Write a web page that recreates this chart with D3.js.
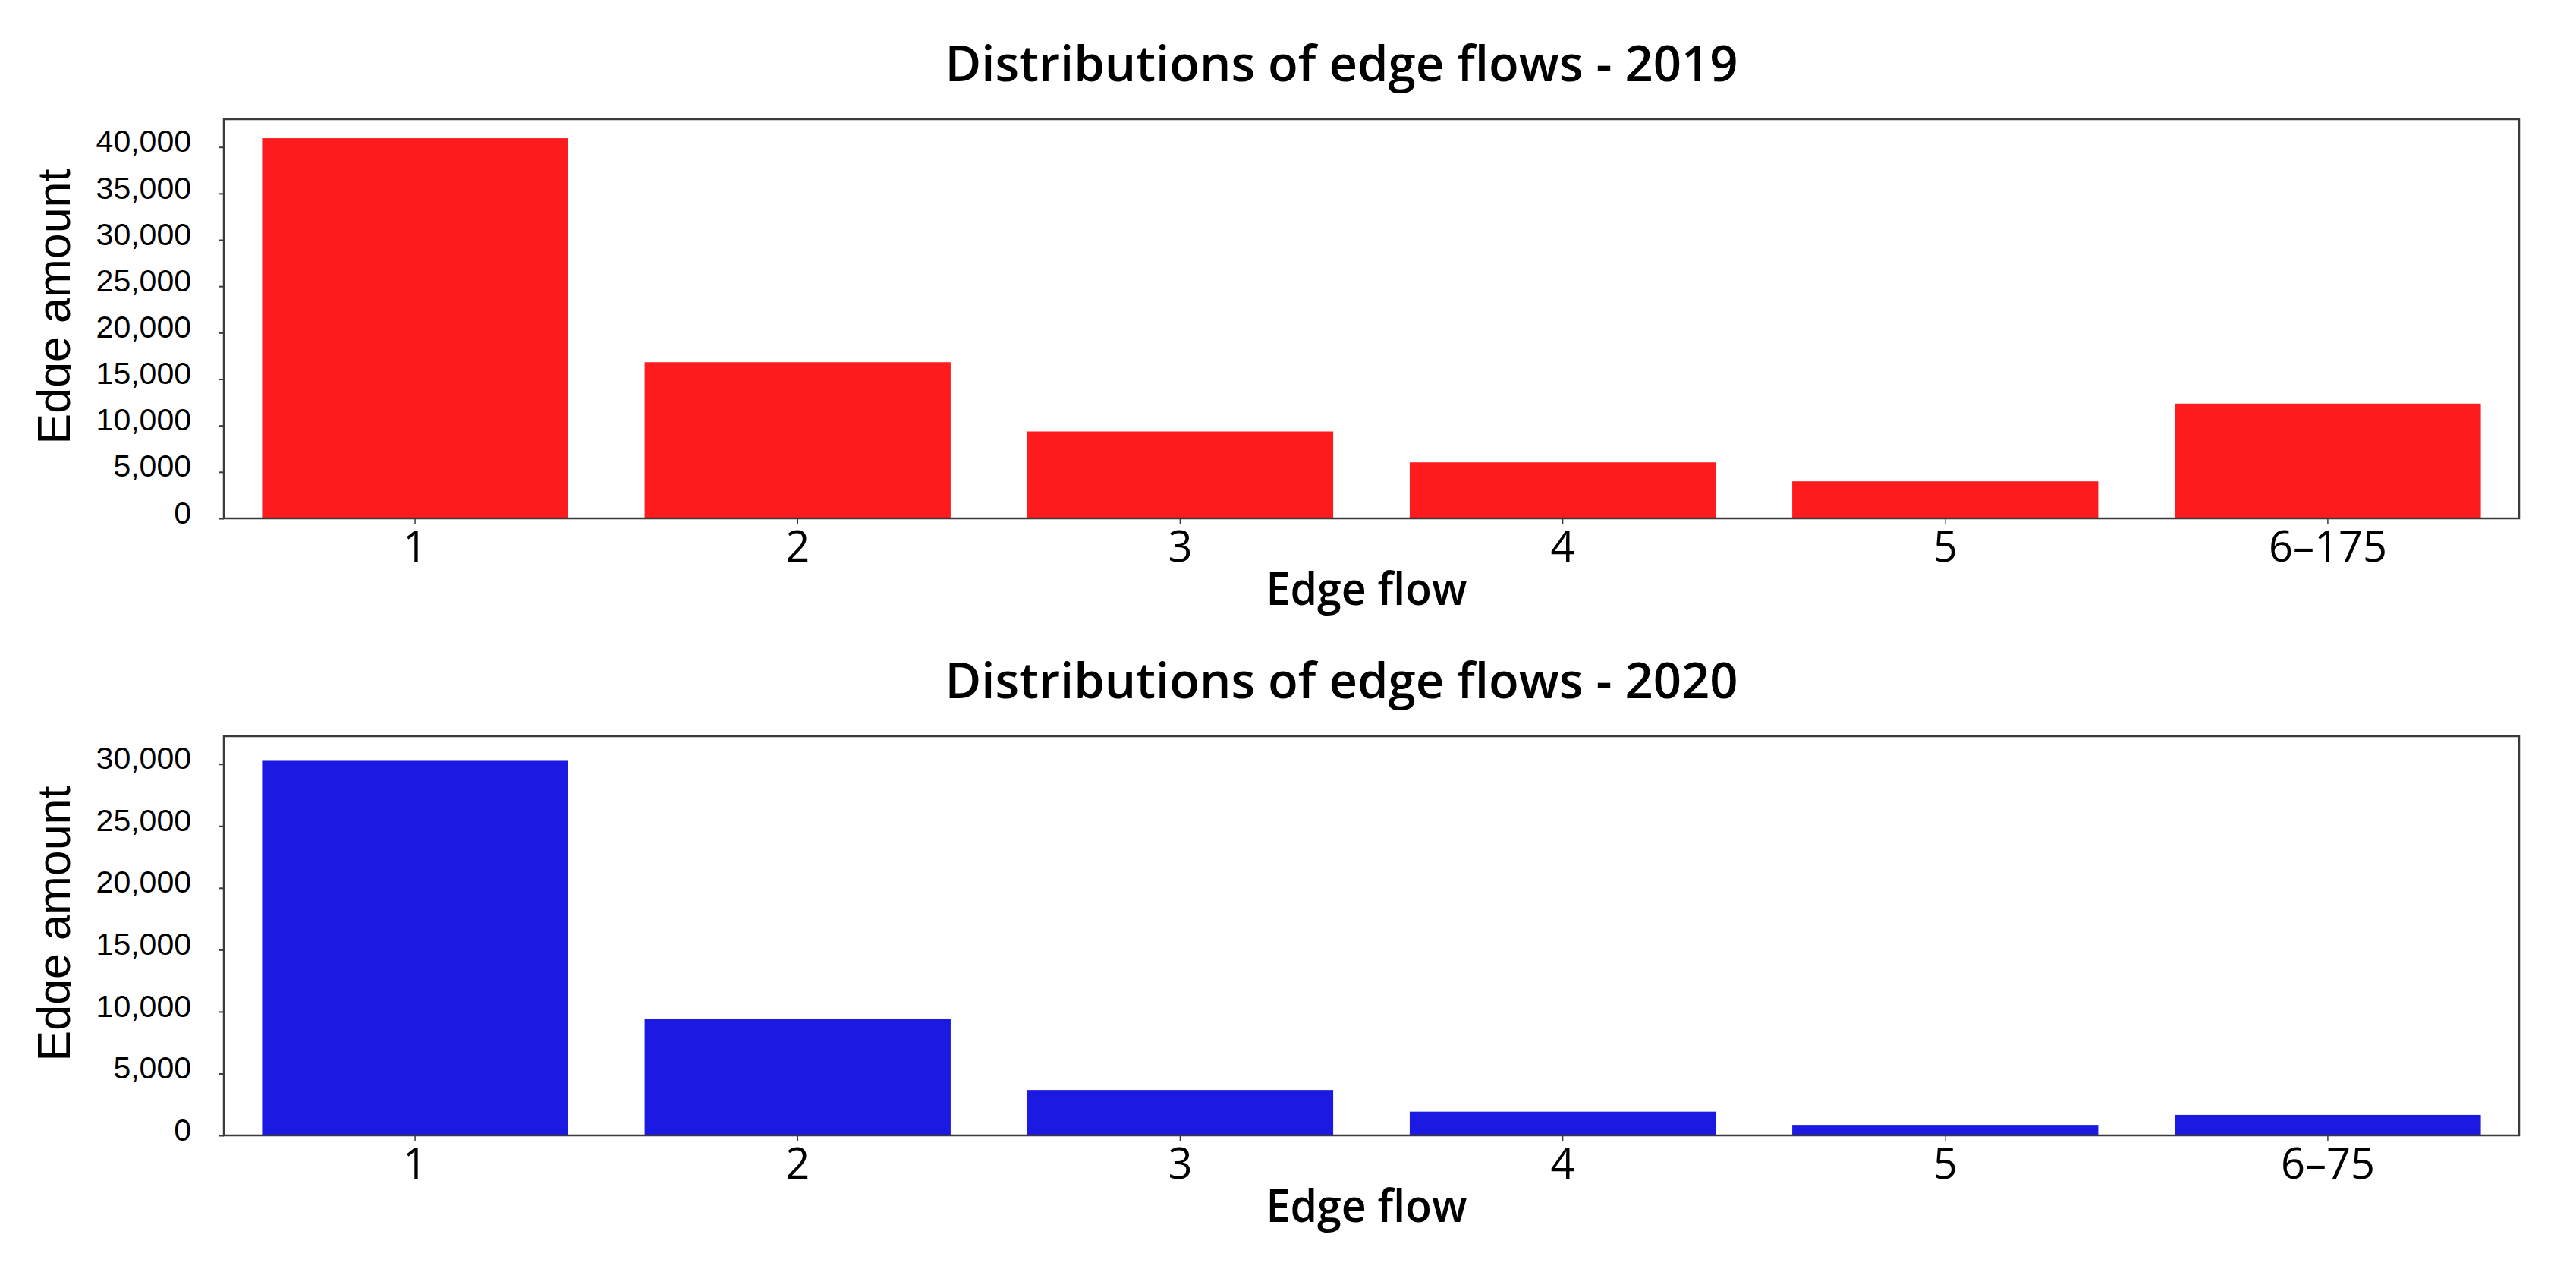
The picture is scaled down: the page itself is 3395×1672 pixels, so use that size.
<!DOCTYPE html>
<html>
<head>
<meta charset="utf-8">
<script src="https://cdn.jsdelivr.net/npm/d3@7"></script>
<style>
  body { margin: 0; background: #fff; }
  svg { display: block; }
</style>
</head>
<body>
<svg width="3395" height="1672"></svg>
<script>
const categories2019 = ["1", "2", "3", "4", "5", "6–175"];
const values2019 = [40950, 16820, 9360, 6030, 3990, 12360];
const yTicks2019 = [0, 5000, 10000, 15000, 20000, 25000, 30000, 35000, 40000];
const yMax2019 = 43000;

const categories2020 = ["1", "2", "3", "4", "5", "6–75"];
const values2020 = [30260, 9420, 3670, 1920, 850, 1660];
const yTicks2020 = [0, 5000, 10000, 15000, 20000, 25000, 30000];
const yMax2020 = 32250;

const titles = ["Distributions of edge flows - 2019", "Distributions of edge flows - 2020"];
const xLabel = "Edge flow";
const yLabel = "Edge amount";

const svg = d3.select("svg");

const left = 295;
const right = 3320;
const axisColor = "#3a3a3a";

const panels = [
  { title: titles[0], categories: categories2019, values: values2019, ticks: yTicks2019, yMax: yMax2019, top: 157, bottom: 683, color: "#fe1b1e" },
  { title: titles[1], categories: categories2020, values: values2020, ticks: yTicks2020, yMax: yMax2020, top: 970, bottom: 1496, color: "#1b19e2" }
];

// clip for the y label (descender is cut off in the original)
svg.append("defs").append("clipPath")
  .attr("id", "ylabel-clip")
  .append("rect")
  .attr("x", 0).attr("y", 0)
  .attr("width", 94).attr("height", 1672);

panels.forEach(p => {
  const g = svg.append("g");

  const x = d3.scaleBand()
    .domain(p.categories)
    .range([left, right])
    .paddingInner(0.2)
    .paddingOuter(0.1);

  const y = d3.scaleLinear()
    .domain([0, p.yMax])
    .range([p.bottom, p.top]);

  g.selectAll("rect.bar")
    .data(p.values)
    .enter()
    .append("rect")
    .attr("class", "bar")
    .attr("x", (d, i) => x(p.categories[i]))
    .attr("width", x.bandwidth())
    .attr("y", d => y(d))
    .attr("height", d => y(0) - y(d))
    .attr("fill", p.color);

  // x axis
  const xAxis = g.append("g")
    .attr("transform", `translate(0,${p.bottom})`)
    .call(d3.axisBottom(x).tickSize(8).tickPadding(9));
  xAxis.select(".domain").remove();
  xAxis.selectAll("line").attr("stroke", axisColor).attr("stroke-width", 1.5);
  xAxis.selectAll("text")
    .attr("fill", "#000")
    .style("font-family", "'Open Sans', 'Noto Sans', sans-serif")
    .style("font-size", "56px");

  // y axis
  const yAxis = g.append("g")
    .attr("transform", `translate(${left},0)`)
    .call(d3.axisLeft(y).tickValues(p.ticks).tickFormat(d3.format(",")).tickSize(6).tickPadding(37));
  yAxis.select(".domain").remove();
  yAxis.selectAll("line").attr("stroke", axisColor).attr("stroke-width", 2);
  yAxis.selectAll("text")
    .attr("fill", "#000")
    .attr("dy", "0.15em")
    .style("font-family", "'Liberation Sans', Arial, sans-serif")
    .style("font-size", "41px");

  // frame
  g.append("rect")
    .attr("x", left)
    .attr("y", p.top)
    .attr("width", right - left)
    .attr("height", p.bottom - p.top)
    .attr("fill", "none")
    .attr("stroke", axisColor)
    .attr("stroke-width", 2.5);

  // title
  g.append("text")
    .attr("x", 1768)
    .attr("y", p.top - 50)
    .attr("text-anchor", "middle")
    .attr("textLength", 1045)
    .attr("lengthAdjust", "spacingAndGlyphs")
    .style("font-family", "'Open Sans', 'Noto Sans', sans-serif")
    .style("font-weight", 600)
    .style("font-size", "66px")
    .text(p.title);

  // x label
  g.append("text")
    .attr("x", 1801)
    .attr("y", p.bottom + 114)
    .attr("text-anchor", "middle")
    .attr("textLength", 265)
    .attr("lengthAdjust", "spacingAndGlyphs")
    .style("font-family", "'Open Sans', 'Noto Sans', sans-serif")
    .style("font-weight", 600)
    .style("font-size", "59px")
    .text(xLabel);

  // y label
  g.append("g")
    .attr("clip-path", "url(#ylabel-clip)")
    .append("text")
    .attr("transform", `translate(92,${(p.top + p.bottom) / 2 - 16}) rotate(-90)`)
    .attr("text-anchor", "middle")
    .style("font-family", "'Liberation Sans', Arial, sans-serif")
    .style("font-size", "61px")
    .text(yLabel);
});
</script>
</body>
</html>
